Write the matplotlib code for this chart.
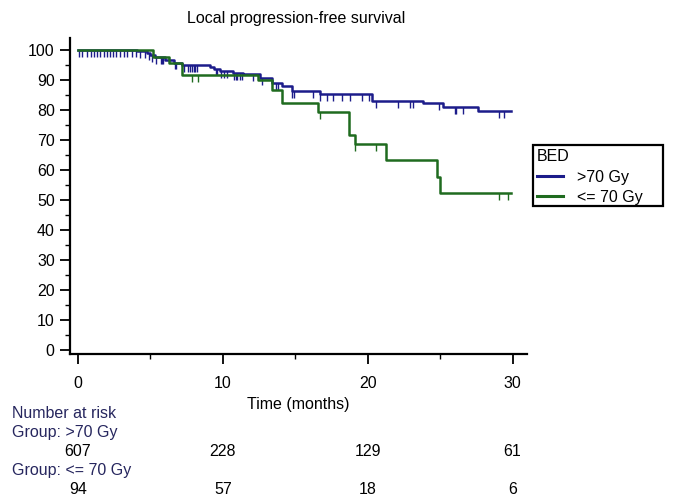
import numpy as np
import matplotlib
matplotlib.use('Agg')
import matplotlib.pyplot as plt
from matplotlib.patches import Rectangle
from matplotlib.ticker import MultipleLocator
from matplotlib.transforms import blended_transform_factory

plt.rcParams['font.family'] = ['Liberation Sans', 'DejaVu Sans']
plt.rcParams['font.size'] = 11.5

# Kaplan-Meier Stufen (Zeit in Monaten, Überleben in %)
hi_times = [0, 4.1, 4.8, 5.0, 5.3, 6.0, 6.6, 7.2, 9.1, 9.4, 9.8, 10.7, 11.4,
            12.6, 13.4, 14.1, 14.8, 16.7, 20.3, 23.8, 25.2, 27.6]
hi_surv = [100, 99.6, 99.0, 98.2, 97.5, 96.5, 95.8, 95.0, 94.4, 93.8, 93.0, 92.4, 92.0,
           90.5, 89.0, 88.0, 86.3, 85.3, 83.0, 82.3, 81.0, 79.6]
hi_censor = [0.1, 0.3, 0.6, 0.9, 1.1, 1.3, 1.5, 1.8, 2.0, 2.2, 2.4, 2.6, 2.9, 3.2,
             3.4, 3.7, 4.0, 4.3, 4.6, 4.9, 5.1, 5.4, 5.7, 5.8, 5.9, 6.7, 6.8, 7.3,
             7.6, 7.7, 7.9, 8.0, 8.1, 8.2, 9.5, 9.6, 9.9, 10.1, 10.3, 10.8, 10.9,
             11.0, 11.2, 11.3, 12.1, 12.7, 13.7, 13.8, 14.8, 14.9, 16.2, 16.7, 17.2,
             17.6, 18.2, 18.8, 19.6, 20.1, 20.6, 22.1, 22.9, 23.1, 24.9, 26.0, 26.1,
             26.6, 29.1, 29.4]

lo_times = [0, 5.2, 6.3, 7.2, 12.4, 13.4, 14.1, 16.6, 18.7, 19.1, 21.3, 24.8, 25.0]
lo_surv = [100, 97.8, 95.5, 91.6, 90.0, 86.6, 82.3, 79.3, 71.6, 68.6, 63.2, 57.5, 52.2]
lo_censor = [7.9, 8.3, 16.7, 19.1, 20.6, 29.1, 29.7]

t_end = 29.9

risk_times = [0, 10, 20, 30]
risk_hi = [607, 228, 129, 61]
risk_lo = [94, 57, 18, 6]

col_hi = '#1c1c8a'
col_lo = '#1f6b1f'
col_txt = '#26265e'


def surv_at(t, times, surv):
    i = np.searchsorted(times, t, side='right') - 1
    return surv[i]


fig = plt.figure(figsize=(6.73, 4.96), dpi=100)
ax = fig.add_axes([70 / 673, 1 - 354 / 496, 457 / 673, 316 / 496])

for times, surv, cens, col, lab in [(hi_times, hi_surv, hi_censor, col_hi, '>70 Gy'),
                                    (lo_times, lo_surv, lo_censor, col_lo, '<= 70 Gy')]:
    ax.step(times + [t_end], surv + [surv[-1]], where='post', color=col, lw=1.8, label=lab)
    cy = np.array([surv_at(c, times, surv) for c in cens])
    ax.vlines(cens, cy - 2.3, cy, color=col, lw=1.0)

ax.set_xlim(-0.55, 31)
ax.set_ylim(-1.5, 104)
ax.xaxis.set_major_locator(MultipleLocator(10))
ax.xaxis.set_minor_locator(MultipleLocator(5))
ax.yaxis.set_major_locator(MultipleLocator(10))
ax.yaxis.set_minor_locator(MultipleLocator(5))
ax.tick_params(which='major', length=7, width=1.3, labelsize=11.5)
ax.tick_params(axis='x', which='major', pad=9)
ax.tick_params(axis='y', which='major', pad=4)
ax.tick_params(which='minor', length=3.5, width=1.0)
for s in ['top', 'right']:
    ax.spines[s].set_visible(False)
for s in ['left', 'bottom']:
    ax.spines[s].set_linewidth(1.6)

ax.set_xlabel('Time (months)', fontsize=11.5, labelpad=4)
fig.text(296 / 673, 1 - 18 / 496, 'Local progression-free survival',
         ha='center', va='center', fontsize=11.5)

# Legende ohne eigenen Rahmen, Kasten separat
leg = fig.legend(title='BED', loc='upper left', bbox_to_anchor=(534 / 673, 1 - 146 / 496),
                 frameon=False, fontsize=11.5, title_fontsize=11.5,
                 handlelength=1.6, borderpad=0.2, labelspacing=0.3, handletextpad=0.9,
                 borderaxespad=0)
leg._legend_box.align = 'left'
leg._legend_box.sep = 4
for h in leg.get_lines():
    h.set_linewidth(2.2)
fig.patches.append(Rectangle((533 / 673, 1 - 206 / 496), 130 / 673, 61 / 496,
                             transform=fig.transFigure, fill=False,
                             edgecolor='black', linewidth=1.6))

# Anzahl unter Risiko
tr = blended_transform_factory(ax.transData, fig.transFigure)
fig.text(12 / 673, 1 - 413 / 496, 'Number at risk', color=col_txt, va='center', fontsize=11.5)
fig.text(12 / 673, 1 - 433 / 496, 'Group: >70 Gy', color=col_txt, va='center', fontsize=11.5)
fig.text(12 / 673, 1 - 471 / 496, 'Group: <= 70 Gy', color=col_txt, va='center', fontsize=11.5)
for t, n1, n2 in zip(risk_times, risk_hi, risk_lo):
    ax.text(t, 1 - 452 / 496, str(n1), transform=tr, ha='center', va='center', fontsize=11.5)
    ax.text(t, 1 - 489 / 496, str(n2), transform=tr, ha='center', va='center', fontsize=11.5)

fig.savefig('out.png', dpi=100)
